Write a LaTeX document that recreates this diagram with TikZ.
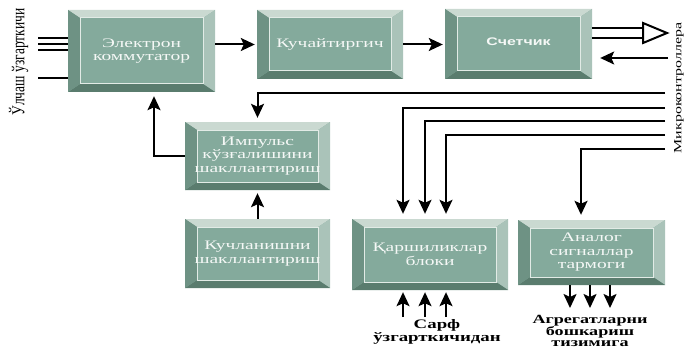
\documentclass[tikz,border=0pt]{standalone}
\usepackage{fontspec}
\setmainfont{Liberation Serif}
\newfontfamily\boxfont[FakeStretch=1.5]{Liberation Serif}
\newfontfamily\cntfont[FakeStretch=1.45]{Liberation Sans}
\newfontfamily\lblfont[FakeStretch=1.45]{Liberation Serif}
\usetikzlibrary{arrows.meta}
\definecolor{face}{RGB}{132,170,156}
\definecolor{bvtop}{RGB}{202,217,209}
\definecolor{bvright}{RGB}{170,195,185}
\definecolor{bvbot}{RGB}{90,124,110}
\definecolor{bvleft}{RGB}{110,146,132}
\definecolor{rim}{RGB}{226,235,230}
\definecolor{boxtxt}{RGB}{245,248,246}
\begin{document}
\begin{tikzpicture}[x=1pt,y=-1pt,
  wire/.style={line width=2pt},
  arr/.style={wire,-{Stealth[length=14pt,width=13pt,inset=3pt]}},
  lbl/.style={align=center,inner sep=0pt,font=\lblfont\bfseries\fontsize{13}{13}\selectfont},
  blk/.style={fill=face,inner sep=0pt,align=center,text=boxtxt,
    font=\boxfont\fontsize{13}{13.5}\selectfont,
    path picture={
      \coordinate (bNW) at (path picture bounding box.north west);
      \coordinate (bNE) at (path picture bounding box.north east);
      \coordinate (bSE) at (path picture bounding box.south east);
      \coordinate (bSW) at (path picture bounding box.south west);
      \fill[bvtop] (bNW) -- (bNE) -- ([shift={(-12pt,-8pt)}]bNE) -- ([shift={(12pt,-8pt)}]bNW) -- cycle;
      \fill[bvright] (bNE) -- (bSE) -- ([shift={(-12pt,8pt)}]bSE) -- ([shift={(-12pt,-8pt)}]bNE) -- cycle;
      \fill[bvbot] (bSE) -- (bSW) -- ([shift={(12pt,8pt)}]bSW) -- ([shift={(-12pt,8pt)}]bSE) -- cycle;
      \fill[bvleft] (bSW) -- (bNW) -- ([shift={(12pt,-8pt)}]bNW) -- ([shift={(12pt,8pt)}]bSW) -- cycle;
      \draw[rim,line width=1pt] ([shift={(12pt,-8pt)}]bNW) rectangle ([shift={(-12pt,8pt)}]bSE);
    }}]
\useasboundingbox (0,0) rectangle (684,350);

% blocks
\node[blk,minimum width=147pt,minimum height=82pt] (kom) at (141.5,51) {Электрон\\коммутатор};
\node[blk,minimum width=146pt,minimum height=69pt] (kuch) at (330,44.5) {Кучайтиргич};
\node[blk,minimum width=147pt,minimum height=70pt,
  font=\cntfont\bfseries\fontsize{11}{12}\selectfont] (sch) at (518.5,44) {\raisebox{5pt}{Счетчик}};
\node[blk,minimum width=145pt,minimum height=68pt] (imp) at (257.5,156) {Импульс\\кўзғалишини\\шакллантириш};
\node[blk,minimum width=145pt,minimum height=69pt] (kuchl) at (257.5,253.5) {Кучланишни\\шакллантириш};
\node[blk,minimum width=156pt,minimum height=71pt] (qar) at (430,254.5) {Қаршиликлар\\блоки};
\node[blk,minimum width=147pt,minimum height=65pt] (anl) at (591.5,252.5) {Аналог\\сигналлар\\тармоги};

% side texts
\node[rotate=90,yscale=1.35,font=\fontsize{13.5}{13}\selectfont] (olch) at (18.5,62) {Ўлчаш ўзгарткичи};
\node[rotate=90,font=\lblfont\fontsize{11}{11}\selectfont] (mcu) at (679,88) {Микроконтроллера};
\node[lbl] (sarf) at (437,332) {Сарф\\ўзгарткичидан};
\node[lbl,font=\lblfont\bfseries\fontsize{12.5}{11}\selectfont] (agr) at (590,331) {Агрегатларни\\бошкариш\\тизимига};

% free ends
\coordinate (in1) at (38,38);
\coordinate (in2) at (38,44);
\coordinate (in3) at (38,50);
\coordinate (in4) at (38,78);
\coordinate (mcuout) at (667,33);
\coordinate (mcuin) at (668,58);
\coordinate (m1) at (665,93);
\coordinate (m2) at (665,108);
\coordinate (m3) at (665,121);
\coordinate (m4) at (665,135);
\coordinate (m5) at (665,149);
\coordinate (s1) at (403,317);
\coordinate (s2) at (425,317);
\coordinate (s3) at (446,317);
\coordinate (g1) at (570,308);
\coordinate (g2) at (590,308);
\coordinate (g3) at (610,308);

% inputs
\foreach \i in {in1,in2,in3,in4}
  \draw[wire] (\i) -- (\i -| kom.west);

\draw[arr,shorten >=2pt] (kom.east |- kuch.west) -- (kuch.west);
\draw[arr,shorten >=2pt] (kuch.east) -- (kuch.east -| sch.west);

% to microcontroller
\draw[wire] ([yshift=5pt]sch.east |- mcuout) -- ([shift={(-24pt,5pt)}]mcuout);
\draw[wire] ([yshift=-5pt]sch.east |- mcuout) -- ([shift={(-24pt,-5pt)}]mcuout);
\draw[wire,fill=white] ([shift={(-24pt,10pt)}]mcuout) -- (mcuout) -- ([shift={(-24pt,-10pt)}]mcuout) -- cycle;
\draw[arr,shorten >=8pt] (mcuin) -- (mcuin -| sch.east);

% from microcontroller
\draw[arr,shorten >=4pt] (m1) -| (imp.north);
\draw[arr,shorten >=5pt] (m2) -| ([xshift=-27pt]qar.north);
\draw[arr,shorten >=5pt] (m3) -| ([xshift=-5pt]qar.north);
\draw[arr,shorten >=5pt] (m4) -| ([xshift=16pt]qar.north);
\draw[arr,shorten >=5pt] (m5) -| ([xshift=-10.5pt]anl.north);

\draw[arr,shorten >=4pt] (imp.west) -| ([xshift=12.5pt]kom.south);
\draw[arr,shorten >=3pt] (kuchl) -- (imp);

\foreach \s in {s1,s2,s3}
  \draw[arr,shorten >=2pt] (\s) -- (\s |- qar.south);
\foreach \g in {g1,g2,g3}
  \draw[arr] (\g |- anl.south) -- (\g);
\end{tikzpicture}
\end{document}
